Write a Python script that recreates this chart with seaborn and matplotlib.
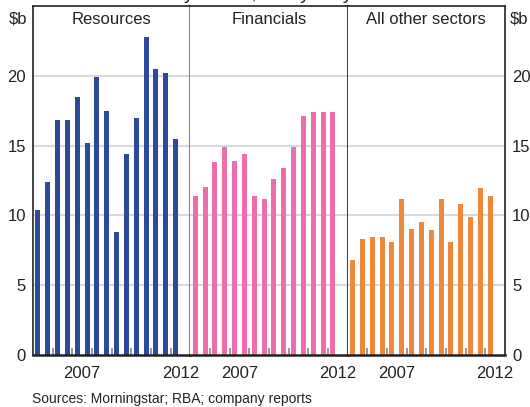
import matplotlib
matplotlib.use("Agg")
import matplotlib.pyplot as plt
import numpy as np
import pandas as pd
import seaborn as sns

# half-year slots, 2005 H1 .. 2012 H2 (last one has no data yet)
PERIODS = ["2005H1", "2005H2", "2006H1", "2006H2", "2007H1", "2007H2",
           "2008H1", "2008H2", "2009H1", "2009H2", "2010H1", "2010H2",
           "2011H1", "2011H2", "2012H1", "2012H2"]
YEAR_LABELS = ["2007", "2012"]

SECTORS = ["Resources", "Financials", "All other sectors"]
resources = [10.4, 12.4, 16.8, 16.8, 18.5, 15.2, 19.9, 17.5, 8.8, 14.4,
             17.0, 22.8, 20.5, 20.2, 15.5]
financials = [11.4, 12.0, 13.8, 14.9, 13.9, 14.4, 11.4, 11.2, 12.6, 13.4,
              14.9, 17.1, 17.4, 17.4, 17.4]
other = [6.8, 8.3, 8.45, 8.45, 8.1, 11.15, 9.0, 9.5, 8.95, 11.15,
         8.1, 10.8, 9.9, 11.95, 11.4]
COLORS = ["#2b4a9c", "#ee6daa", "#f0883c"]

sns.set_theme(style="white")
plt.rcParams["font.family"] = ["Liberation Sans", "DejaVu Sans"]

W, H = 530, 407
fig, axes = plt.subplots(1, 3, sharey=True, figsize=(W / 100, H / 100), dpi=100)
fig.subplots_adjust(left=33 / W, right=505 / W, top=1 - 6 / H, bottom=1 - 355 / H,
                    wspace=0)

for ax, name, vals, col in zip(axes, SECTORS, [resources, financials, other], COLORS):
    df = pd.DataFrame({"period": PERIODS[:len(vals)], "value": vals})
    sns.barplot(data=df, x="period", y="value", order=PERIODS, color=col,
                saturation=1, width=0.52, errorbar=None, linewidth=0,
                ax=ax, zorder=2)
    ax.set_xlim(-0.5, len(PERIODS) - 0.5)
    ax.set_ylim(0, 25)
    ax.set_xlabel("")
    ax.set_ylabel("")
    ax.set_yticks([0, 5, 10, 15, 20])
    for y in [5, 10, 15, 20]:
        ax.axhline(y, color="#d9d9d9", lw=1.5, zorder=0)
    # year boundary ticks, labels centred on the year
    ax.set_xticks(np.arange(1.5, len(PERIODS) - 1, 2), minor=True)
    ax.set_xticks([PERIODS.index(y + "H2") - 0.5 for y in YEAR_LABELS])
    ax.set_xticklabels(YEAR_LABELS, fontsize=12, color="#222222")
    ax.tick_params(axis="x", which="major", length=0, pad=8)
    ax.tick_params(axis="x", which="minor", direction="in", length=5,
                   width=1.2, color="#888888", bottom=True)
    ax.tick_params(axis="y", length=0)
    ax.text(0.5, 1 - 13 / 349, name, transform=ax.transAxes, ha="center",
            va="center", fontsize=12, color="#222222")
    for s in ax.spines.values():
        s.set_visible(True)
        s.set_color("#222222")
        s.set_linewidth(1.2)
    ax.spines["bottom"].set_linewidth(1.8)

axes[0].spines["right"].set_color("#888888")
axes[0].spines["right"].set_linewidth(1.5)
axes[1].spines["left"].set_visible(False)
axes[1].spines["right"].set_color("#444444")
axes[1].spines["right"].set_linewidth(1.5)
axes[2].spines["left"].set_visible(False)

axes[0].tick_params(axis="y", labelsize=12, pad=5, labelcolor="#222222")
axes[2].tick_params(axis="y", labelright=True, labelleft=False, labelsize=12,
                    pad=5, labelcolor="#222222")

fig.text(27 / W, 1 - 19 / H, "$b", ha="right", va="center", fontsize=12, color="#222222")
fig.text(510 / W, 1 - 19 / H, "$b", ha="left", va="center", fontsize=12, color="#222222")
# subtitle sits mostly above the visible canvas, as in the source image
fig.text(262 / W, 1 + 1 / H, "By sector, half-yearly", ha="center", va="baseline",
         fontsize=14, color="#222222")
fig.text(32 / W, 1 - 399 / H, "Sources: Morningstar; RBA; company reports",
         ha="left", va="center", fontsize=10, color="#222222")

fig.savefig("out.png", dpi=100)
